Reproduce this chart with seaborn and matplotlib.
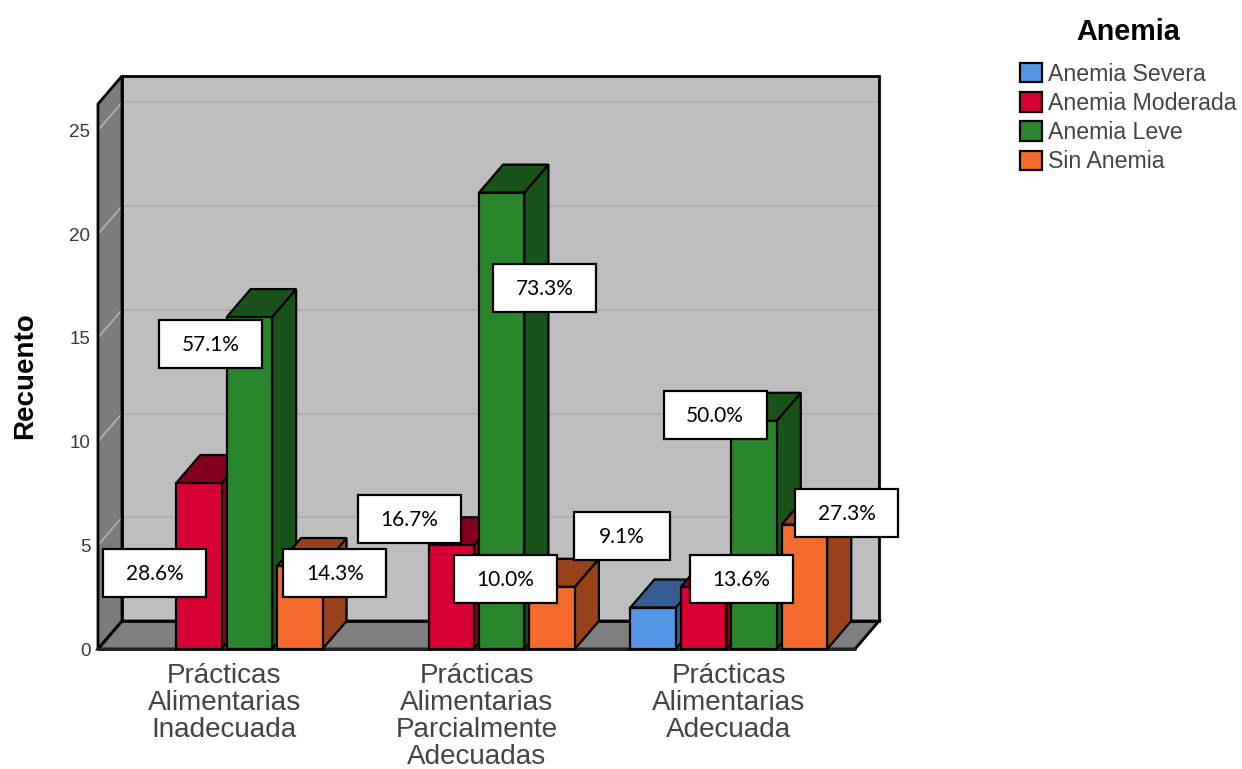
import numpy as np
import pandas as pd
import matplotlib
matplotlib.use("Agg")
import matplotlib.pyplot as plt
from matplotlib.colors import to_rgb
from matplotlib.patches import Polygon, Rectangle, Patch
from matplotlib.transforms import IdentityTransform
import seaborn as sns

# ---- data ----
practicas = ["Prácticas\nAlimentarias\nInadecuada",
             "Prácticas\nAlimentarias\nParcialmente\nAdecuadas",
             "Prácticas\nAlimentarias\nAdecuada"]
anemia = ["Anemia Severa", "Anemia Moderada", "Anemia Leve", "Sin Anemia"]
severa = [0, 0, 2]
moderada = [8, 5, 3]
leve = [16, 22, 11]
sin_anemia = [4, 3, 6]
porcentajes = {
    (0, 1): "28.6%", (0, 2): "57.1%", (0, 3): "14.3%",
    (1, 1): "16.7%", (1, 2): "73.3%", (1, 3): "10.0%",
    (2, 0): "9.1%", (2, 1): "13.6%", (2, 2): "50.0%", (2, 3): "27.3%",
}
colores = ["#5596E6", "#D60032", "#2A862A", "#F56B2D"]
yticks = [0, 5, 10, 15, 20, 25]

# ---- label box placement relative to the bar top (pixels) ----
label_offsets = {
    (0, 1): (-44, -90), (0, 2): (-39, -27), (0, 3): (35, -7),
    (1, 1): (-42, 26), (1, 2): (43, -95), (1, 3): (-47, 8),
    (2, 0): (-31, 72), (2, 1): (38, 8), (2, 2): (-39, 6), (2, 3): (42, 12),
}
label_widths = {(2, 0): 96}

W, H = 1242, 769
DX, DY = 24, 28
sns.set_theme(style="white")
plt.rcParams["font.family"] = ["Liberation Sans", "DejaVu Sans"]

fig = plt.figure(figsize=(W / 100, H / 100), dpi=100, facecolor="white")
ax = fig.add_axes([98 / W, 1 - 649 / H, 757 / W, 545 / H])
ax.patch.set_visible(False)

series = [severa, moderada, leve, sin_anemia]
df = pd.DataFrame(
    [(p, a, s[i]) for a, s in zip(anemia, series) for i, p in enumerate(practicas)],
    columns=["Practica", "Anemia", "Recuento"],
)
sns.barplot(data=df, x="Practica", y="Recuento", hue="Anemia", order=practicas,
            hue_order=anemia, palette=colores, saturation=1, width=0.8, gap=0.1,
            edgecolor="black", linewidth=1.6, legend=False, ax=ax)
bar_items = []
for hue, cont in enumerate(ax.containers):
    for bar in cont:
        bar_items.append((hue, bar))
bar_items.sort(key=lambda it: it[1].get_x())

ax.set_xlim(-0.5, 2.5)
ax.set_ylim(0, 26.27)
for s in ax.spines.values():
    s.set_visible(False)

fig.canvas.draw()
identity = IdentityTransform()


def disp(x, y):
    return ax.transData.transform((x, y))


def poly(points, face, z, edge="black", lw=1.6):
    ax.add_patch(Polygon(points, closed=True, facecolor=face, edgecolor=edge, linewidth=lw,
                         transform=identity, clip_on=False, zorder=z, joinstyle="miter"))


def shade(c, f=0.62):
    return tuple(v * f for v in to_rgb(c))


# walls and floor
y0, y1 = ax.get_ylim()
x0, x1 = ax.get_xlim()
p00, p10, p01, p11 = disp(x0, y0), disp(x1, y0), disp(x0, y1), disp(x1, y1)
off = np.array([DX, DY])
back = [p00 + off, p10 + off, p11 + off, p01 + off]
left = [p00, p01, p01 + off, p00 + off]
floor = [p00, p10, p10 + off, p00 + off]
poly(back, "#BEBEBE", 0.2, edge="none", lw=0)
poly(left, "#7C7C7C", 0.3, edge="none", lw=0)
poly(floor, "#7F7F7F", 0.3, edge="none", lw=0)

for t in yticks[1:]:
    a = disp(x0, t)
    b = disp(x1, t)
    ax.plot([a[0] + DX, b[0] + DX], [a[1] + DY, b[1] + DY], color="#B0B0B0", lw=1.5,
            transform=identity, clip_on=False, zorder=0.25)
for t in yticks:
    a = disp(x0, t)
    ax.plot([a[0], a[0] + DX], [a[1], a[1] + DY], color="#B4B4B4", lw=1.2,
            transform=identity, clip_on=False, zorder=0.35)
for shape in (back, left, floor):
    poly(shape, "none", 0.38, lw=2)
ax.plot([p00[0], p10[0]], [p00[1], p10[1]], color="#222222", lw=2.2, transform=identity,
        clip_on=False, zorder=0.4)

# 3-D faces, left to right
tops = {}
for k, (hue, bar) in enumerate(bar_items):
    cat = int(round(bar.get_x() + bar.get_width() / 2))
    h = bar.get_height()
    if h == 0:
        bar.set_visible(False)
        continue
    z = 1 + k * 0.1
    xl, xr = bar.get_x(), bar.get_x() + bar.get_width()
    bl, br, tl, tr = disp(xl, 0), disp(xr, 0), disp(xl, h), disp(xr, h)
    dark = shade(colores[hue])
    poly([br, tr, tr + off, br + off], dark, z)
    poly([tl, tr, tr + off, tl + off], dark, z)
    bar.set_zorder(z + 0.05)
    bar.set_clip_on(False)
    tops[(cat, hue)] = disp((xl + xr) / 2, h)

# value labels
for key, txt in porcentajes.items():
    cx, cy = tops[key] + np.array(label_offsets[key])
    w = label_widths.get(key, 103)
    ax.add_patch(Rectangle((cx - w / 2, cy - 24), w, 48, facecolor="white", edgecolor="black",
                           linewidth=1.6, transform=identity, clip_on=False, zorder=10))
    ax.text(cx, cy - 1, txt, transform=identity, ha="center", va="center", fontsize=15,
            family="Lato", color="black", zorder=11, clip_on=False)

# axes text
ax.set_yticks(yticks)
ax.tick_params(axis="y", length=0, pad=5.5, labelsize=13.5, labelcolor="#3A3A3A")
ax.tick_params(axis="x", length=0, pad=10, labelsize=20.1, labelcolor="#444444")
for lab in ax.get_xticklabels():
    lab.set_linespacing(1.05)
ax.set_xlabel("")
ax.set_ylabel("")
fig.text(25 / W, 1 - 376 / H, "Recuento", rotation=90, ha="center", va="center",
         fontsize=20, fontweight="bold", color="black")

# legend
handles = [Patch(facecolor=c, edgecolor="black", linewidth=1.6) for c in colores]
leg = fig.legend(handles, anemia, title="Anemia", loc="upper left",
                 bbox_to_anchor=(1020 / W, 1 - 18 / H), borderaxespad=0, borderpad=0,
                 frameon=False, fontsize=16.7, labelcolor="#444444",
                 handlelength=0.95, handleheight=0.92, handletextpad=0.26, labelspacing=0.27,
                 title_fontproperties={"size": 20.7, "weight": "bold"})
leg.get_title().set_color("black")
leg._legend_box.sep = 12

fig.savefig("out.png", dpi=100)
